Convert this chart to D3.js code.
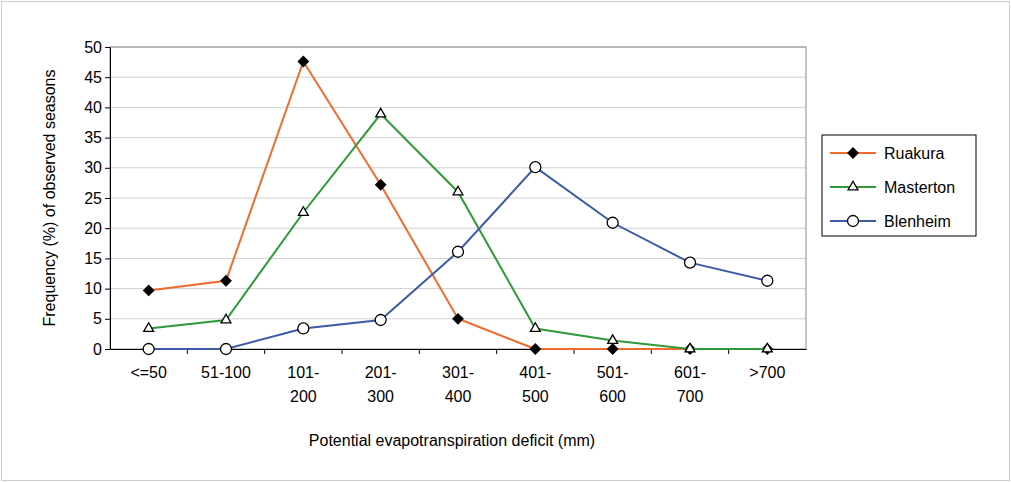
<!DOCTYPE html>
<html><head><meta charset="utf-8">
<script src="https://cdn.jsdelivr.net/npm/d3@7"></script>
<style>body{margin:0;background:#fff}text{font-family:Arial,"Liberation Sans",sans-serif}</style>
</head><body><div id="chart"></div>
<script>
const categories = ["<=50","51-100","101-200","201-300","301-400","401-500","501-600","601-700",">700"];
const ruakura   = [9.7, 11.3, 47.6, 27.2, 5.0, 0, 0, 0, 0];
const masterton = [3.4, 4.8, 22.6, 38.9, 26.0, 3.4, 1.4, 0, 0];
const blenheim  = [0, 0, 3.4, 4.8, 16.1, 30.1, 20.9, 14.3, 11.3];
const yTicks = [0,5,10,15,20,25,30,35,40,45,50];

const w = 1011, h = 482;
const pLeft = 110, pRight = 806, pTop = 47, pBottom = 349;

const svg = d3.select("#chart").append("svg").attr("width", w).attr("height", h);
svg.append("rect").attr("x",1.5).attr("y",1.5).attr("width",w-3).attr("height",h-3)
   .attr("fill","#fff").attr("stroke","#ccc");

const x = d3.scaleBand().domain(categories).range([pLeft, pRight]);
const y = d3.scaleLinear().domain([0,50]).range([pBottom, pTop]);
const cx = d => x(d) + x.bandwidth()/2;

svg.append("g").selectAll("line").data(yTicks.slice(1)).enter().append("line")
   .attr("x1",pLeft).attr("x2",pRight).attr("y1",d=>y(d)).attr("y2",d=>y(d))
   .attr("stroke","#d0d0d0");
svg.append("rect").attr("x",pLeft).attr("y",pTop).attr("width",pRight-pLeft).attr("height",pBottom-pTop)
   .attr("fill","none").attr("stroke","#888");

const yAxis = svg.append("g").attr("transform","translate("+pLeft+",0)")
   .call(d3.axisLeft(y).tickValues(yTicks).tickSize(5).tickSizeOuter(0));
yAxis.selectAll("text").attr("font-size",16).attr("fill","#000");
yAxis.select(".domain").attr("stroke","#000");

const xAxis = svg.append("g").attr("transform","translate(0,"+pBottom+")")
   .call(d3.axisBottom(x).tickSize(0).tickSizeOuter(0));
xAxis.select(".domain").attr("stroke","#000");
xAxis.selectAll(".tick text").each(function(d){
  const t = d3.select(this).text("").attr("font-size",16).attr("fill","#000").attr("y",18);
  const parts = d.match(/^(\d+)-(\d+)$/) && +d.split("-")[0] > 100 ? [d.split("-")[0]+"-", d.split("-")[1]] : [d];
  parts.forEach((p,i)=> t.append("tspan").attr("x",0).attr("dy", i===0?"0.71em":"1.5em").text(p));
});
svg.append("g").selectAll("line").data(categories.slice(1)).enter().append("line")
   .attr("x1",d=>x(d)).attr("x2",d=>x(d)).attr("y1",pBottom).attr("y2",pBottom+5).attr("stroke","#000");

svg.append("text").attr("x",(pLeft+pRight)/2 - 6).attr("y",446).attr("text-anchor","middle")
   .attr("font-size",16).text("Potential evapotranspiration deficit (mm)");
svg.append("text").attr("transform","translate(55,"+(pTop+pBottom)/2+") rotate(-90)")
   .attr("text-anchor","middle").attr("font-size",16).text("Frequency (%) of observed seasons");

const series = [
  {name:"Ruakura", values:ruakura, color:"#f26b2e", marker:"diamond"},
  {name:"Masterton", values:masterton, color:"#2f9a3a", marker:"triangle"},
  {name:"Blenheim", values:blenheim, color:"#3d5aa8", marker:"circle"}
];
const line = d3.line().x((d,i)=>cx(categories[i])).y(d=>y(d));
function marker(g, type, px, py){
  if(type==="diamond") g.append("path").attr("d",d3.symbol(d3.symbolSquare,70)())
     .attr("transform","translate("+px+","+py+") rotate(45)").attr("fill","#000");
  if(type==="triangle") g.append("path").attr("d",d3.symbol(d3.symbolTriangle2,70)())
     .attr("transform","translate("+px+","+py+")").attr("fill","#fff").attr("stroke","#000").attr("stroke-width",1.3);
  if(type==="circle") g.append("circle").attr("cx",px).attr("cy",py).attr("r",5.5)
     .attr("fill","#fff").attr("stroke","#000").attr("stroke-width",1.3);
}
series.forEach(s=>{
  svg.append("path").datum(s.values).attr("d",line).attr("fill","none")
     .attr("stroke",s.color).attr("stroke-width",2);
  const g = svg.append("g");
  s.values.forEach((v,i)=>marker(g,s.marker,cx(categories[i]),y(v)));
});

const lg = svg.append("g");
lg.append("rect").attr("x",822).attr("y",135).attr("width",154).attr("height",101)
  .attr("fill","#fff").attr("stroke","#000");
series.forEach((s,i)=>{
  const ly = 153 + i*34;
  lg.append("line").attr("x1",830).attr("x2",876).attr("y1",ly).attr("y2",ly)
    .attr("stroke",s.color).attr("stroke-width",2);
  marker(lg,s.marker,853,ly);
  lg.append("text").attr("x",884).attr("y",ly+6).attr("font-size",16).text(s.name);
});
</script></body></html>
